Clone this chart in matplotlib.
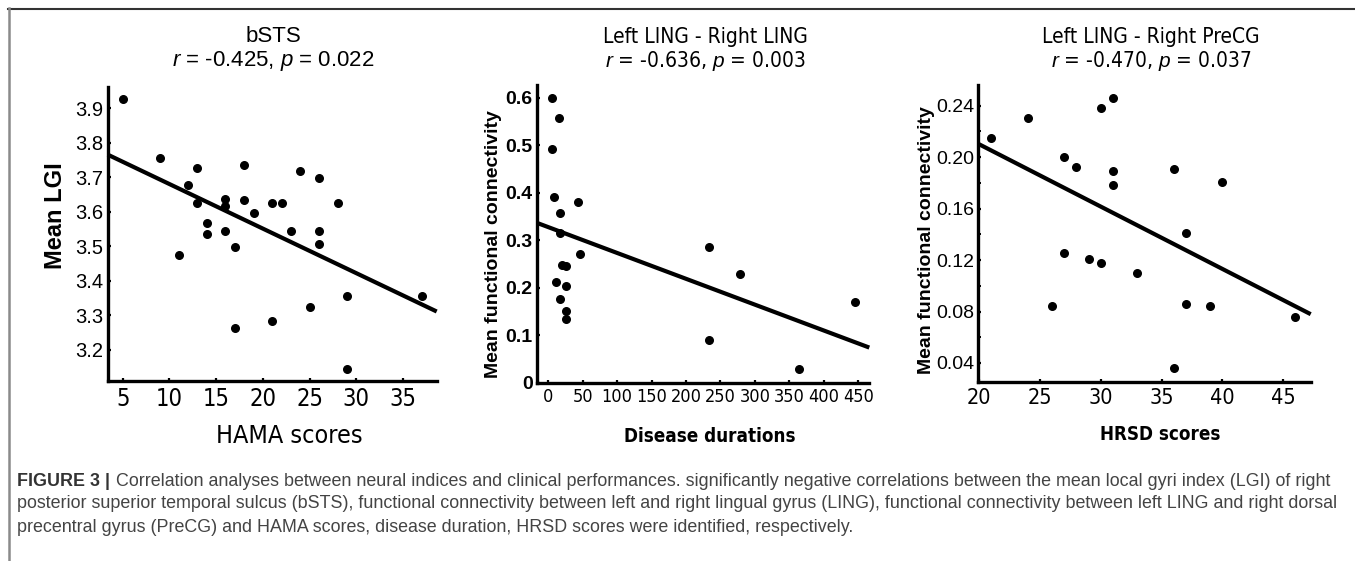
import os
import numpy as np
import matplotlib
matplotlib.use("Agg")
import matplotlib.pyplot as plt
from matplotlib import font_manager
from matplotlib.font_manager import FontProperties
from matplotlib.lines import Line2D

# --- data ---
hama = [5, 9, 11, 12, 13, 13, 14, 14, 16, 16, 16, 17, 17, 18, 18, 19, 21, 21,
        22, 23, 24, 25, 26, 26, 26, 28, 29, 29, 37]
lgi = [3.927, 3.757, 3.476, 3.679, 3.727, 3.627, 3.569, 3.537, 3.638, 3.617,
       3.546, 3.498, 3.265, 3.737, 3.636, 3.598, 3.627, 3.285, 3.627, 3.546,
       3.718, 3.325, 3.698, 3.546, 3.506, 3.627, 3.355, 3.144, 3.355]

duration = [5, 15.5, 5, 8.7, 17.4, 43.5, 16.5, 46.5, 19.4, 26, 10.7, 26, 17.4,
            26, 26, 233.7, 233.7, 278, 363.5, 444.8]
fc_ling = [0.600, 0.558, 0.492, 0.392, 0.358, 0.380, 0.315, 0.271, 0.247, 0.245,
           0.213, 0.203, 0.177, 0.150, 0.135, 0.285, 0.090, 0.229, 0.029, 0.170]

hrsd = [21, 24, 30, 31, 27, 28, 31, 31, 36, 40, 37, 27, 29, 30, 33, 26, 37, 39,
        46, 36]
fc_precg = [0.215, 0.230, 0.238, 0.246, 0.200, 0.192, 0.189, 0.178, 0.191,
            0.181, 0.141, 0.1255, 0.121, 0.118, 0.110, 0.084, 0.086, 0.084,
            0.076, 0.036]

titles = ["bSTS", "Left LING - Right LING", "Left LING - Right PreCG"]
stats = [r"$\it{r}$ = -0.425, $\it{p}$ = 0.022",
         r"$\it{r}$ = -0.636, $\it{p}$ = 0.003",
         r"$\it{r}$ = -0.470, $\it{p}$ = 0.037"]
xlabels = ["HAMA scores", "Disease durations", "HRSD scores"]
ylabels = ["Mean LGI", "Mean functional connectivity", "Mean functional connectivity"]

caption_bold = "FIGURE 3 |"
caption_lines = [
    " Correlation analyses between neural indices and clinical performances. "
    "significantly negative correlations between the mean local gyri index (LGI) of right",
    "posterior superior temporal sulcus (bSTS), functional connectivity between left "
    "and right lingual gyrus (LING), functional connectivity between left LING and right dorsal",
    "precentral gyrus (PreCG) and HAMA scores, disease duration, HRSD scores were "
    "identified, respectively.",
]

SANS = "Liberation Sans"


def find_condensed(bold):
    # look for any narrow / condensed face installed
    best = None
    for f in font_manager.fontManager.ttflist:
        fn = os.path.basename(f.fname).lower()
        if not ("narrow" in fn or "condensed" in fn or "narrow" in f.name.lower()):
            continue
        if "italic" in fn or "oblique" in fn:
            continue
        isbold = "bold" in fn or f.weight in ("bold", 700)
        if isbold != bold:
            continue
        if "liberation" in fn:
            return f.fname
        if best is None:
            best = f.fname
    return best


COND = find_condensed(False)
COND_B = find_condensed(True)


def cfont(size, bold=False):
    path = COND_B if bold else COND
    if path:
        return FontProperties(fname=path, size=size)
    # no narrow face: plain sans, a bit smaller
    return FontProperties(family=SANS, size=size * 0.85,
                          weight="bold" if bold else "normal")


plt.rcParams["font.family"] = SANS
plt.rcParams["mathtext.fontset"] = "custom"
plt.rcParams["mathtext.rm"] = SANS
plt.rcParams["mathtext.it"] = SANS + ":italic"

W, H = 1355, 561
fig = plt.figure(figsize=(W / 100, H / 100), dpi=100)


def px_axes(x0, y0, x1, y1):
    return fig.add_axes([x0 / W, 1 - y1 / H, (x1 - x0) / W, (y1 - y0) / H])


def ftext(x, y, s, **kw):
    return fig.text(x / W, 1 - y / H, s, **kw)


def style(ax, xt, yt, ylab_fmt, xprop, yprop):
    for side in ("top", "right"):
        ax.spines[side].set_visible(False)
    for side in ("left", "bottom"):
        ax.spines[side].set_linewidth(2.4)
    ax.set_xticks(xt)
    ax.set_yticks(yt)
    ax.set_yticklabels([ylab_fmt(v) for v in yt], fontproperties=yprop)
    ax.set_xticklabels([str(v) for v in xt], fontproperties=xprop)
    ax.tick_params(direction="in", length=2.5, width=1.6, pad=4)
    ax.tick_params(axis="y", pad=3)


def fit_line(ax, x, y, lo, hi):
    k, b = np.polyfit(x, y, 1)
    xs = np.array([lo, hi])
    ax.plot(xs, k * xs + b, color="black", lw=3.0, solid_capstyle="butt",
            clip_on=False, zorder=2)


# panel 1
ax1 = px_axes(107.7, 86.7, 436.7, 381)
ax1.scatter(hama, lgi, s=30, color="black", zorder=3, clip_on=False)
ax1.set_xlim(3.4, 38.6)
ax1.set_ylim(3.11, 3.963)
fit_line(ax1, hama, lgi, 3.4, 38.6)
style(ax1, [5, 10, 15, 20, 25, 30, 35], [3.2, 3.3, 3.4, 3.5, 3.6, 3.7, 3.8, 3.9],
      lambda v: f"{v:.1f}", cfont(17), FontProperties(family=SANS, size=14.5))

# panel 2
ax2 = px_axes(536.7, 85, 869.3, 382.7)
ax2.scatter(duration, fc_ling, s=30, color="black", zorder=3, clip_on=False)
ax2.set_xlim(-16.8, 466)
ax2.set_ylim(0, 0.627)
fit_line(ax2, duration, fc_ling, -16.8, 466)
style(ax2, list(range(0, 451, 50)), [0, 0.1, 0.2, 0.3, 0.4, 0.5, 0.6],
      lambda v: "0" if v == 0 else f"{v:.1f}", cfont(13),
      FontProperties(family=SANS, size=14, weight="bold"))

# panel 3
ax3 = px_axes(978.3, 85, 1310.7, 382.3)
ax3.scatter(hrsd, fc_precg, s=30, color="black", zorder=3, clip_on=False)
ax3.set_xlim(19.94, 47.25)
ax3.set_ylim(0.025, 0.256)
fit_line(ax3, hrsd, fc_precg, 19.94, 47.25)
style(ax3, [20, 25, 30, 35, 40, 45], [0.04, 0.08, 0.12, 0.16, 0.20, 0.24],
      lambda v: f"{v:.2f}", cfont(15.5), FontProperties(family=SANS, size=14))
ax3.set_yticks(np.arange(0.04, 0.25, 0.02), minor=True)
ax3.tick_params(axis="y", which="minor", direction="in", length=2, width=1.4)

# titles
tcx = [273, 705.7, 1150.7]
tprops = [FontProperties(family=SANS, size=16), cfont(15), cfont(15)]
for cx, t, s, fp in zip(tcx, titles, stats, tprops):
    ftext(cx, 37, t, ha="center", va="center", fontproperties=fp)
    ftext(cx, 61, s, ha="center", va="center", fontproperties=fp)

# axis labels
ftext(289, 436, xlabels[0], ha="center", va="center", fontproperties=cfont(18))
ftext(710, 437, xlabels[1], ha="center", va="center", fontproperties=cfont(13.5, True))
ftext(1160, 435, xlabels[2], ha="center", va="center", fontproperties=cfont(13.5, True))
ftext(55, 216, ylabels[0], ha="center", va="center", rotation=90,
      fontsize=17, fontweight="bold")
ftext(494, 244, ylabels[1], ha="center", va="center", rotation=90,
      fontsize=14, fontweight="bold")
ftext(926.7, 240, ylabels[2], ha="center", va="center", rotation=90,
      fontsize=14, fontweight="bold")

# frame
fig.add_artist(Line2D([8 / W, 1], [1 - 8.5 / H, 1 - 8.5 / H], color="#333333", lw=1.5))
fig.add_artist(Line2D([8.5 / W, 8.5 / W], [0, 1 - 8 / H], color="#8a8a8a", lw=1.8))

# caption
cap_y = [481, 504, 528]
cap_size = 12.9
b = ftext(17, cap_y[0], caption_bold, va="center", fontsize=cap_size,
          fontweight="bold", color="#333333")
fig.canvas.draw()
bb = b.get_window_extent()
ftext(bb.x1 + 1, cap_y[0], caption_lines[0], va="center", fontsize=cap_size,
      color="#444444")
for yy, line in zip(cap_y[1:], caption_lines[1:]):
    ftext(17, yy, line, va="center", fontsize=cap_size, color="#444444")

fig.savefig("out.png", dpi=100)
